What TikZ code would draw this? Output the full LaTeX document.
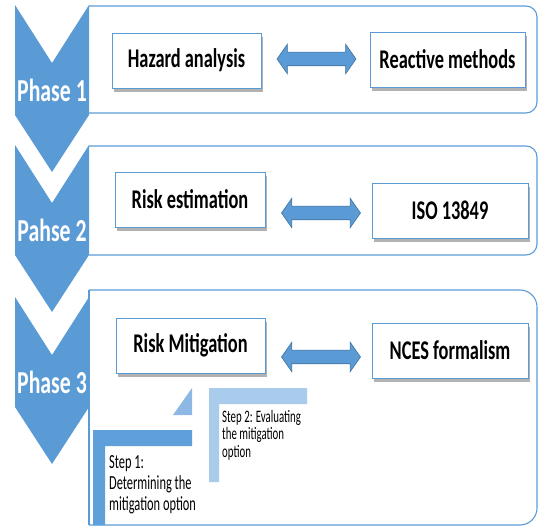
\documentclass[tikz,border=0pt]{standalone}
\usepackage{fontspec}
\setmainfont[FakeStretch=0.68]{Carlito}
\newfontfamily\stepfont[FakeStretch=0.62]{Carlito}
\usetikzlibrary{shapes.arrows, shadows}
\definecolor{chevblue}{HTML}{5B9BD5}
\definecolor{edgeblue}{HTML}{41719C}
\definecolor{stepone}{HTML}{5FA0DA}
\definecolor{steptri}{HTML}{8DB8E4}
\definecolor{steptwo}{HTML}{A9CBEC}
\tikzset{
  panel/.style={draw=chevblue, line width=1.1pt},
  itembox/.style={draw=chevblue, fill=white, line width=0.9pt, minimum height=55pt, inner sep=0pt,
    font=\bfseries\fontsize{27}{29}\selectfont,
    drop shadow={shadow xshift=2pt, shadow yshift=-4pt, opacity=0.3, fill=black}},
  linkarrow/.style={double arrow, draw=edgeblue, fill=chevblue, line width=0.6pt, minimum height=79pt,
    inner sep=6.5pt, double arrow head extend=8pt, double arrow tip angle=110},
  phaselabel/.style={text=white, inner sep=0pt, font=\bfseries\fontsize{32}{34}\selectfont},
}
\begin{document}
\begin{tikzpicture}[x=1pt, y=-1pt]
	\useasboundingbox (0,0) rectangle (538,526);
	\draw[panel, rounded corners=11pt] (89,6) -- (537,6) -- (537,113) -- (89,113);
	\draw[panel, rounded corners=11pt] (89,146) -- (537,146) -- (537,255) -- (89,255);
	\draw[panel, rounded corners=17pt] (89,290) -- (537,290) -- (537,525) -- (89,525);
	\draw[panel] (89,290) -- (89,525);
	\foreach \t/\lbl [count=\i] in {5/Phase 1, 145/Pahse 2, 297/Phase 3} {
		\fill[chevblue] (15,\t) -- (52,\t+58) -- (89,\t) -- (89,\t+110) -- (52,\t+167) -- (15,\t+110) -- cycle;
		\node[phaselabel] (phase\i) at (52,\t+85) {\lbl};
	}
	\node[itembox, minimum width=149pt] (hazard) at (186.5,60.5) {Hazard analysis};
	\node[itembox, minimum width=155pt] (reactive) at (447.5,59.5) {Reactive methods};
	\node[itembox, minimum width=150pt] (riskest) at (190,199.5) {Risk estimation};
	\node[itembox, minimum width=156pt] (iso) at (450,210.5) {ISO 13849};
	\node[itembox, minimum width=149pt] (riskmit) at (190.5,345.5) {Risk Mitigation};
	\node[itembox, minimum width=156pt] (nces) at (450,350.5) {NCES formalism};
	\node[linkarrow] (link1) at (316.5,59) {};
	\node[linkarrow] (link2) at (321,213) {};
	\node[linkarrow] (link3) at (321,357) {};
	\fill[stepone] (93,525) -- (93,430) -- (192,430) -- (192,446) -- (105,446) -- (105,525) -- cycle;
	\fill[steptri] (173,415) -- (192,415) -- (192,388) -- cycle;
	\fill[steptwo] (209,482) -- (209,388) -- (307,388) -- (307,404) -- (219,404) -- (219,482) -- cycle;
	\node[anchor=north west, inner sep=0pt, align=left, font=\stepfont\fontsize{20}{21}\selectfont] (step1) at (109,455) {Step 1:\\Determining the\\mitigation option};
	\node[anchor=north west, inner sep=0pt, align=left, font=\stepfont\fontsize{17.5}{17.5}\selectfont] (step2) at (222,410) {Step 2: Evaluating\\the mitigation\\option};
\end{tikzpicture}
\end{document}
